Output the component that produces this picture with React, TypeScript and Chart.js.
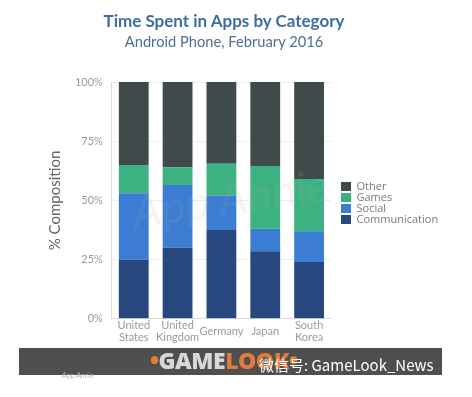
import React, { useEffect, useRef } from "react";
import { Chart, registerables } from "chart.js";

Chart.register(...registerables);

const categories: string[][] = [["United", "States"], ["United", "Kingdom"], ["Germany"], ["Japan"], ["South", "Korea"]];
const communication = [25, 30, 37.5, 28.5, 24];
const social = [28, 26.5, 14.5, 9.5, 13];
const games = [12, 7.5, 13.5, 26.5, 22];
const other = [35, 36, 34.5, 35.5, 41];
const yTicks = [0, 25, 50, 75, 100];

const title = "Time Spent in Apps by Category";
const subtitle = "Android Phone, February 2016";

const LEGEND_W = 110;

const legendFit = {
  id: "legendFit",
  beforeLayout(chart: any) {
    const lg: any = chart.legend;
    if (lg && !lg._patched) {
      const orig = lg.fit.bind(lg);
      lg.fit = function () {
        orig();
        this.width = LEGEND_W;
      };
      lg._patched = true;
    }
  },
};

export default function App() {
  const ref = useRef<HTMLCanvasElement>(null);
  useEffect(() => {
    if (!ref.current) return;
    const chart = new Chart(ref.current, {
      type: "bar",
      data: {
        labels: categories,
        datasets: [
          { label: "Communication", data: communication, backgroundColor: "#27487e" },
          { label: "Social", data: social, backgroundColor: "#3a7dd2" },
          { label: "Games", data: games, backgroundColor: "#3cb282" },
          { label: "Other", data: other, backgroundColor: "#3f4a4b" },
        ],
      },
      plugins: [legendFit],
      options: {
        animation: false,
        responsive: false,
        maintainAspectRatio: false,
        datasets: { bar: { barPercentage: 0.68, categoryPercentage: 1 } },
        layout: { padding: { left: 44, right: 21, top: 82, bottom: 40 } },
        plugins: {
          title: { display: false },
          tooltip: { enabled: false },
          legend: {
            position: "right",
            align: "start",
            reverse: true,
            title: {
              display: true,
              text: " ",
              font: { size: 10, lineHeight: 1 },
              padding: { top: 89, bottom: 0 },
            },
            labels: {
              boxWidth: 10,
              boxHeight: 9,
              padding: 0,
              color: "#7a7a7a",
              font: { family: "'Open Sans'", size: 11, lineHeight: 1 },
            },
          },
        },
        scales: {
          x: {
            stacked: true,
            grid: { display: false, drawTicks: false },
            border: { display: true, color: "#dcdcdc" },
            ticks: {
              color: "#9a9a9a",
              padding: 7,
              crossAlign: "center",
              maxRotation: 0,
              autoSkip: false,
              font: { family: "Lato", size: 11, lineHeight: 1.1 },
            },
          },
          y: {
            stacked: true,
            min: 0,
            max: 100,
            afterBuildTicks: (scale: any) => {
              scale.ticks = yTicks.map((v) => ({ value: v }));
            },
            grid: { color: "#eeeeee", drawTicks: false },
            border: { display: true, color: "#dcdcdc" },
            ticks: {
              color: "#9a9a9a",
              padding: 9,
              font: { family: "Lato", size: 11 },
              callback: (v: any) => v + "%",
            },
            title: {
              display: true,
              text: "% Composition",
              color: "#666666",
              padding: { top: 2, bottom: 10 },
              font: { family: "Lato", size: 15 },
            },
          },
          spacer: {
            type: "linear",
            position: "right",
            display: true,
            grid: { display: false, drawTicks: false },
            border: { display: false },
            ticks: { display: false },
            afterFit: (scale: any) => {
              scale.width = 10;
            },
          },
        },
      } as any,
    });
    return () => chart.destroy();
  }, []);

  return (
    <div style={{ position: "absolute", left: 0, top: 0, width: 472, height: 397, background: "#fff", overflow: "hidden" }}>
      <canvas ref={ref} width={472} height={397} style={{ position: "absolute", left: 0, top: 0, width: 472, height: 397 }} />
      <div style={{ position: "absolute", left: 0, width: 448, top: 10, textAlign: "center", fontFamily: "Lato", fontWeight: 700, fontSize: 17, color: "#3c6ea3", lineHeight: "21px" }}>
        {title}
      </div>
      <div style={{ position: "absolute", left: 0, width: 448, top: 32, textAlign: "center", fontFamily: "Lato", fontSize: 14.7, color: "#4d6f93", lineHeight: "18px" }}>
        {subtitle}
      </div>
      <div style={{ position: "absolute", left: 120, top: 170, width: 220, whiteSpace: "nowrap", textAlign: "center", fontFamily: "Lato", fontStyle: "italic", fontSize: 46, color: "rgba(170,170,170,0.13)", transform: "rotate(-8deg)", pointerEvents: "none" }}>
        App Annie
      </div>
      <div style={{ position: "absolute", left: 19, top: 348, width: 423, height: 27, background: "#4f4f4f" }}>
        <div style={{ position: "absolute", left: 131, top: 0, fontFamily: "'Open Sans'", fontWeight: 800, fontSize: 23, lineHeight: "24px", letterSpacing: -0.5 }}>
          <span style={{ color: "#e07b39" }}>•</span>
          <span style={{ color: "#d8d8d8" }}>GAME</span>
          <span style={{ color: "#e07b39" }}>LOOK</span>
          <span style={{ color: "#e07b39" }}>•</span>
        </div>
        <div style={{ position: "absolute", left: 240, top: 8, fontFamily: "'Noto Sans CJK SC', 'Open Sans'", fontSize: 15, lineHeight: "18px", color: "#ffffff" }}>
          微信号: GameLook_News
        </div>
      </div>
      <div style={{ position: "absolute", left: 62, top: 371, fontFamily: "Lato", fontSize: 7, color: "#b8b8b8" }}>App Annie</div>
    </div>
  );
}
